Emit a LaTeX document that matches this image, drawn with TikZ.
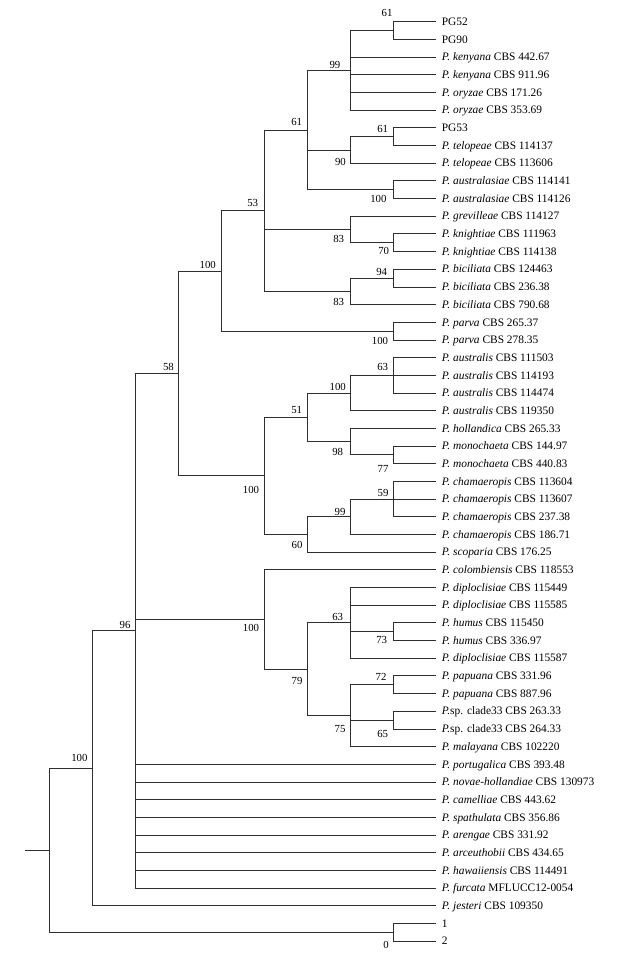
\documentclass[tikz,border=0pt]{standalone}
\usepackage{fontspec}
\setmainfont{Liberation Serif}
\begin{document}
\begin{tikzpicture}[
  leaf/.style={anchor=west, inner xsep=5.4pt, inner ysep=0pt, text height=7.5pt, text depth=0pt, font=\fontsize{11.4}{13}\selectfont},
  bs/.style={anchor=east, inner sep=0pt, text height=7.3pt, text depth=0pt, font=\fontsize{10.8}{12}\selectfont},
  br/.style={draw=black!82, line width=0.75pt},
  thickbr/.style={draw=black!85, line width=1.4pt}
]
\useasboundingbox (0pt,0pt) rectangle (616pt,-953pt);
\begin{scope}[x=1pt, y=-17.68pt, yshift=-4.02pt]
% leaves
\foreach \i/\t in {
 1/PG52, 2/PG90,
 3/\textit{P. kenyana} CBS 442.67, 4/\textit{P. kenyana} CBS 911.96,
 5/\textit{P. oryzae} CBS 171.26, 6/\textit{P. oryzae} CBS 353.69,
 7/PG53, 8/\textit{P. telopeae} CBS 114137, 9/\textit{P. telopeae} CBS 113606,
 10/\textit{P. australasiae} CBS 114141, 11/\textit{P. australasiae} CBS 114126,
 12/\textit{P. grevilleae} CBS 114127, 13/\textit{P. knightiae} CBS 111963,
 14/\textit{P. knightiae} CBS 114138, 15/\textit{P. biciliata} CBS 124463,
 16/\textit{P. biciliata} CBS 236.38, 17/\textit{P. biciliata} CBS 790.68,
 18/\textit{P. parva} CBS 265.37, 19/\textit{P. parva} CBS 278.35,
 20/\textit{P. australis} CBS 111503, 21/\textit{P. australis} CBS 114193,
 22/\textit{P. australis} CBS 114474, 23/\textit{P. australis} CBS 119350,
 24/\textit{P. hollandica} CBS 265.33, 25/\textit{P. monochaeta} CBS 144.97,
 26/\textit{P. monochaeta} CBS 440.83, 27/\textit{P. chamaeropis} CBS 113604,
 28/\textit{P. chamaeropis} CBS 113607, 29/\textit{P. chamaeropis} CBS 237.38,
 30/\textit{P. chamaeropis} CBS 186.71, 31/\textit{P. scoparia} CBS 176.25,
 32/\textit{P. colombiensis} CBS 118553, 33/\textit{P. diploclisiae} CBS 115449,
 34/\textit{P. diploclisiae} CBS 115585, 35/\textit{P. humus} CBS 115450,
 36/\textit{P. humus} CBS 336.97, 37/\textit{P. diploclisiae} CBS 115587,
 38/\textit{P. papuana} CBS 331.96, 39/\textit{P. papuana} CBS 887.96,
 40/\textit{P.}sp. clade33 CBS 263.33, 41/\textit{P.}sp. clade33 CBS 264.33,
 42/\textit{P. malayana} CBS 102220, 43/\textit{P. portugalica} CBS 393.48,
 44/\textit{P. novae-hollandiae} CBS 130973, 45/\textit{P. camelliae} CBS 443.62,
 46/\textit{P. spathulata} CBS 356.86, 47/\textit{P. arengae} CBS 331.92,
 48/\textit{P. arceuthobii} CBS 434.65, 49/\textit{P. hawaiiensis} CBS 114491,
 50/\textit{P. furcata} MFLUCC12-0054, 51/\textit{P. jesteri} CBS 109350,
 52/1, 53/2}
 { \node[leaf] (l\i) at (436.3,\i) {\t}; }
% internal nodes
\coordinate (a61)   at (393.3,1.5);
\coordinate (a99)   at (350.3,3.75);
\coordinate (a61b)  at (393.3,7.5);
\coordinate (a90)   at (350.3,8.25);
\coordinate (aAus)  at (393.3,10.5);
\coordinate (a61t)  at (307.3,7.125);
\coordinate (a70)   at (393.3,13.5);
\coordinate (a83g)  at (350.3,12.75);
\coordinate (a94)   at (393.3,15.5);
\coordinate (a83b)  at (350.3,16.25);
\coordinate (a53)   at (264.7,11.6875);
\coordinate (aPar)  at (393.3,18.5);
\coordinate (a100u) at (221.7,15.09375);
\coordinate (a63)   at (393.3,21);
\coordinate (a100a) at (350.3,22);
\coordinate (a77)   at (393.3,25.5);
\coordinate (a98)   at (350.3,24.75);
\coordinate (a51)   at (307.3,23.375);
\coordinate (a59)   at (393.3,28);
\coordinate (a99c)  at (350.3,29);
\coordinate (a60)   at (307.3,30);
\coordinate (a100l) at (264.7,26.6875);
\coordinate (a58)   at (178.7,20.890625);
\coordinate (a73)   at (393.3,35.5);
\coordinate (a63d)  at (350.3,35);
\coordinate (a72)   at (393.3,38.5);
\coordinate (a65)   at (393.3,40.5);
\coordinate (a75)   at (350.3,40.25);
\coordinate (a79)   at (307.3,37.625);
\coordinate (a100c) at (264.7,34.8125);
\coordinate (a96)   at (135.7,35.4453);
\coordinate (a100j) at (92.7,43.2227);
\coordinate (a0)    at (393.3,52.5);
\coordinate (root)  at (49.7,47.861);
\coordinate (stub)  at (25.3,47.861);
% branches
\draw[thickbr] (a96 |- a58) -- (a96 |- l50.west);
\draw[br] (a61) |- (l1.west) (a61) |- (l2.west);
\draw[br] (a99) |- (a61) (a99) |- (l3.west) (a99) |- (l4.west) (a99) |- (l5.west) (a99) |- (l6.west);
\draw[br] (a61b) |- (l7.west) (a61b) |- (l8.west);
\draw[br] (a90) |- (a61b) (a90) |- (l9.west);
\draw[br] (aAus) |- (l10.west) (aAus) |- (l11.west);
\draw[br] (a61t) |- (a99) (a61t) |- (a90) (a61t) |- (aAus);
\draw[br] (a70) |- (l13.west) (a70) |- (l14.west);
\draw[br] (a83g) |- (l12.west) (a83g) |- (a70);
\draw[br] (a94) |- (l15.west) (a94) |- (l16.west);
\draw[br] (a83b) |- (a94) (a83b) |- (l17.west);
\draw[br] (a53) |- (a61t) (a53) |- (a83g) (a53) |- (a83b);
\draw[br] (aPar) |- (l18.west) (aPar) |- (l19.west);
\draw[br] (a100u) |- (a53) (a100u) |- (aPar);
\draw[br] (a63) |- (l20.west) (a63) |- (l21.west) (a63) |- (l22.west);
\draw[br] (a100a) |- (a63) (a100a) |- (l23.west);
\draw[br] (a77) |- (l25.west) (a77) |- (l26.west);
\draw[br] (a98) |- (l24.west) (a98) |- (a77);
\draw[br] (a51) |- (a100a) (a51) |- (a98);
\draw[br] (a59) |- (l27.west) (a59) |- (l28.west) (a59) |- (l29.west);
\draw[br] (a99c) |- (a59) (a99c) |- (l30.west);
\draw[br] (a60) |- (a99c) (a60) |- (l31.west);
\draw[br] (a100l) |- (a51) (a100l) |- (a60);
\draw[br] (a58) |- (a100u) (a58) |- (a100l);
\draw[br] (a73) |- (l35.west) (a73) |- (l36.west);
\draw[br] (a63d) |- (l33.west) (a63d) |- (l34.west) (a63d) |- (a73) (a63d) |- (l37.west);
\draw[br] (a72) |- (l38.west) (a72) |- (l39.west);
\draw[br] (a65) |- (l40.west) (a65) |- (l41.west);
\draw[br] (a75) |- (a72) (a75) |- (a65) (a75) |- (l42.west);
\draw[br] (a79) |- (a63d) (a79) |- (a75);
\draw[br] (a100c) |- (l32.west) (a100c) |- (a79);
\draw[br] (a96) |- (a58) (a96) |- (a100c)
  (a96) |- (l43.west) (a96) |- (l44.west) (a96) |- (l45.west) (a96) |- (l46.west)
  (a96) |- (l47.west) (a96) |- (l48.west) (a96) |- (l49.west) (a96) |- (l50.west);
\draw[br] (a100j) |- (a96) (a100j) |- (l51.west);
\draw[br] (a0) |- (l52.west) (a0) |- (l53.west);
\draw[br] (root) |- (a100j) (root) |- (a0);
\draw[br] (stub) -- (root);
\end{scope}
% bootstrap values
\node[bs] (b1)  at (392.7pt,-13.2pt) {61};
\node[bs] (b2)  at (340.5pt,-65pt) {99};
\node[bs] (b3)  at (302.3pt,-121.7pt) {61};
\node[bs] (b4)  at (388.3pt,-129.3pt) {61};
\node[bs] (b5)  at (346pt,-161.7pt) {90};
\node[bs] (b6)  at (386.7pt,-199.3pt) {100};
\node[bs] (b7)  at (258.3pt,-203.3pt) {53};
\node[bs] (b8)  at (344.3pt,-239pt) {83};
\node[bs] (b9)  at (389.3pt,-251pt) {70};
\node[bs] (b10) at (387.3pt,-271.7pt) {94};
\node[bs] (b11) at (344.3pt,-302.3pt) {83};
\node[bs] (b12) at (216pt,-265pt) {100};
\node[bs] (b13) at (388.3pt,-340.7pt) {100};
\node[bs] (b14) at (174pt,-366.7pt) {58};
\node[bs] (b15) at (388.3pt,-367.3pt) {63};
\node[bs] (b16) at (346pt,-387.3pt) {100};
\node[bs] (b17) at (302.3pt,-410pt) {51};
\node[bs] (b18) at (343.3pt,-451.7pt) {98};
\node[bs] (b19) at (388.7pt,-469.3pt) {77};
\node[bs] (b20) at (259.3pt,-490pt) {100};
\node[bs] (b21) at (388.7pt,-492.7pt) {59};
\node[bs] (b22) at (345.7pt,-511.7pt) {99};
\node[bs] (b23) at (302.7pt,-545pt) {60};
\node[bs] (b24) at (343.3pt,-616.7pt) {63};
\node[bs] (b25) at (259.3pt,-628.3pt) {100};
\node[bs] (b26) at (387.3pt,-640pt) {73};
\node[bs] (b27) at (302.7pt,-680.7pt) {79};
\node[bs] (b28) at (386.7pt,-677.3pt) {72};
\node[bs] (b29) at (345.7pt,-729.3pt) {75};
\node[bs] (b30) at (388.3pt,-734pt) {65};
\node[bs] (b31) at (130.7pt,-625pt) {96};
\node[bs] (b32) at (87.7pt,-758.3pt) {100};
\node[bs] (b33) at (389pt,-945pt) {0};
\end{tikzpicture}
\end{document}
